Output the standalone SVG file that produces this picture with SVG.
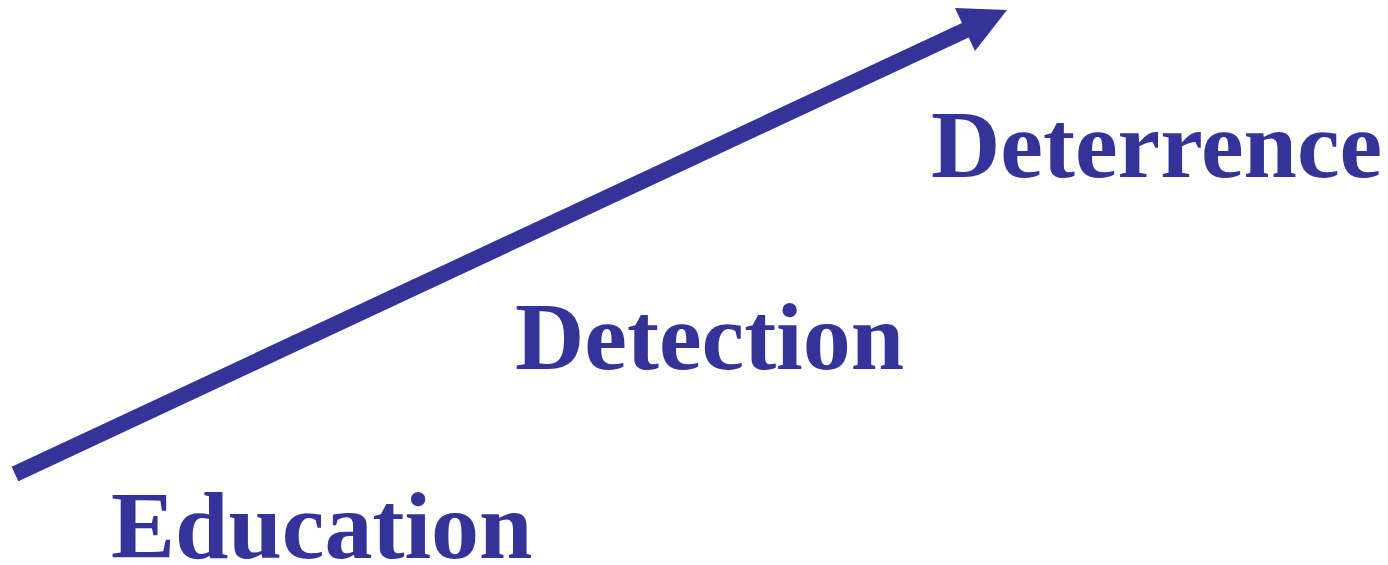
<svg xmlns="http://www.w3.org/2000/svg" width="1388" height="565" viewBox="0 0 1388 565">
<style>
.lbl{font-family:"Liberation Serif","Times New Roman",serif;font-weight:bold;font-size:96px;fill:#333399}
</style>
<rect width="1388" height="565" fill="#ffffff"/>
<g id="connectors">
<line x1="15" y1="474" x2="968" y2="29" stroke="#333399" stroke-width="16"/>
<polygon points="1007,10 955,8 975,51" fill="#333399"/>
</g>
<g id="education"><text class="lbl" x="111" y="558">Education</text></g>
<g id="detection"><text class="lbl" x="515" y="369">Detection</text></g>
<g id="deterrence"><text class="lbl" x="931" y="177">Deterrence</text></g>
</svg>
